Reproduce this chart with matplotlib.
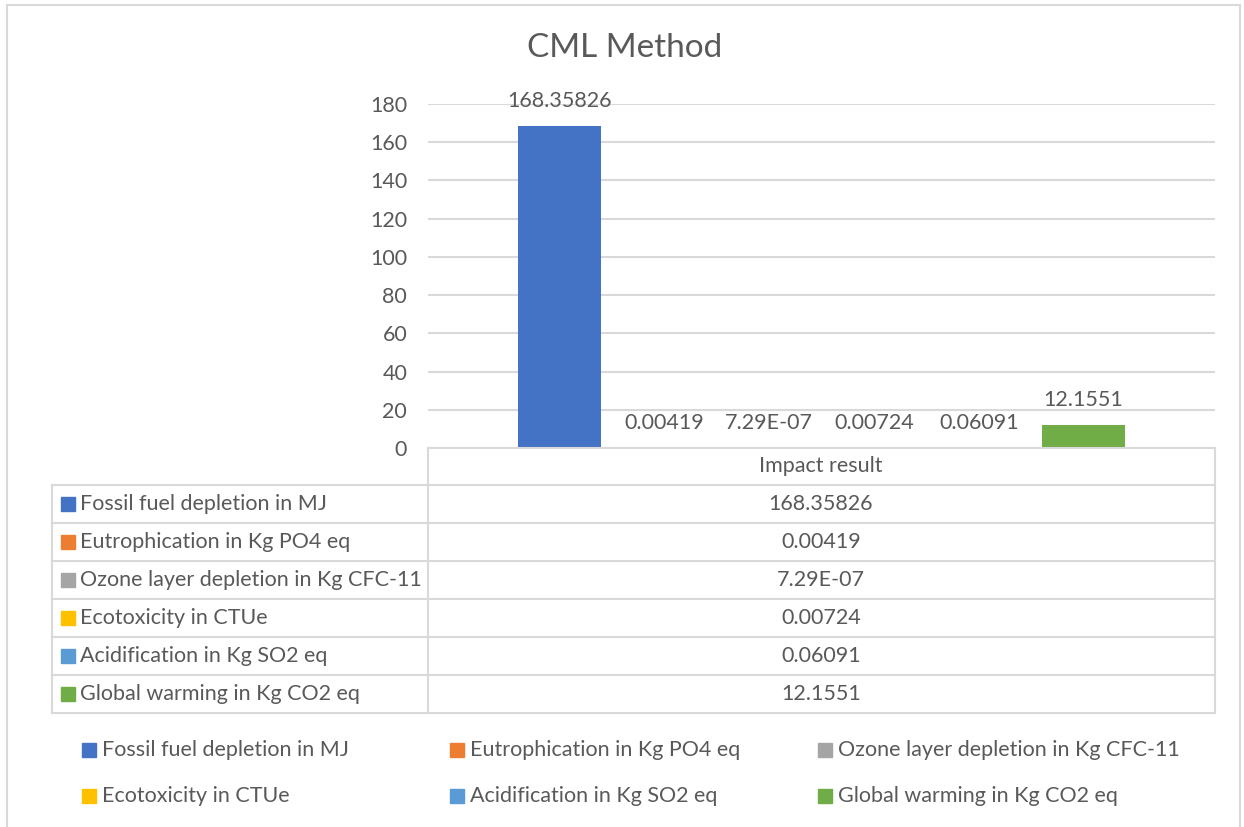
import matplotlib.pyplot as plt
import matplotlib.patches as patches
from matplotlib.lines import Line2D
import numpy as np

# DATA
categories = ["Fossil fuel depletion in MJ", "Eutrophication in Kg PO4 eq",
              "Ozone layer depletion in Kg CFC-11", "Ecotoxicity in CTUe",
              "Acidification in Kg SO2 eq", "Global warming in Kg CO2 eq"]
values = [168.35826, 0.00419, 7.29e-07, 0.00724, 0.06091, 12.1551]
colors = ["#4472C4", "#ED7D31", "#A5A5A5", "#FFC000", "#5B9BD5", "#70AD47"]
group_label = "Impact result"
title = "CML Method"
y_ticks = [0, 20, 40, 60, 80, 100, 120, 140, 160, 180]

W, H = 1244, 827
TEXT = "#595959"
GRID = "#D9D9D9"
FONT = "Lato"
FS = 15.5
MK = 14  # marker square size in px

plt.rcParams['font.family'] = [FONT, 'DejaVu Sans']


def px(x, y):
    # pixel coords (top-left origin) -> figure fraction
    return x / W, 1 - y / H


def label_of(v):
    return str(v).upper()


def square(x, yc, color):
    fig.patches.append(patches.Rectangle(px(x, yc + MK / 2), MK / W, MK / H,
                                         transform=fig.transFigure, color=color))


fig = plt.figure(figsize=(W / 100, H / 100), dpi=100)

# outer chart border (bottom edge falls outside the picture)
fig.patches.append(patches.Rectangle(px(7, 840), 1233 / W, 835 / H, transform=fig.transFigure,
                                     fill=False, edgecolor=GRID, lw=1.5, clip_on=False))

# PLOT AREA
left, top = px(428, 104)
right, bottom = px(1215, 448)
ax = fig.add_axes([left, bottom, right - left, top - bottom])

x = np.arange(len(values))
bars = ax.bar(x, values, width=0.79, color=colors, zorder=3)
ax.set_xlim(-1.254, 6.254)
ax.set_ylim(0, 180)
ax.set_yticks(y_ticks)
ax.set_xticks([])
ax.grid(axis='y', color=GRID, lw=1.5, zorder=0)
for s in ax.spines.values():
    s.set_visible(False)
ax.tick_params(axis='y', length=0, pad=15, labelsize=FS, labelcolor=TEXT)

for b, v in zip(bars, values):
    ax.annotate(label_of(v), (b.get_x() + b.get_width() / 2, v), xytext=(0, 18),
                textcoords='offset points', ha='center', va='center', fontsize=FS, color=TEXT)

fig.text(*px(625, 48), title, ha='center', va='center', fontsize=24, color=TEXT)

# DATA TABLE
def hline(x0, x1, y):
    fig.add_artist(Line2D([x0 / W, x1 / W], [1 - y / H, 1 - y / H], color=GRID, lw=1.5))


def vline(x, y0, y1):
    fig.add_artist(Line2D([x / W, x / W], [1 - y0 / H, 1 - y1 / H], color=GRID, lw=1.5))


row_h = 38
row0 = 485
hline(428, 1215, 448)
vline(428, 448, row0 + row_h * len(values))
vline(1215, 448, row0 + row_h * len(values))
vline(52, row0, row0 + row_h * len(values))
fig.text(*px(821, 466), group_label, ha='center', va='center', fontsize=FS, color=TEXT)
for i in range(len(values) + 1):
    hline(52, 1215, row0 + row_h * i)

for i, (cat, v, c) in enumerate(zip(categories, values, colors)):
    yc = row0 + row_h * i + row_h / 2
    square(61, yc, c)
    fig.text(*px(80, yc), cat, ha='left', va='center', fontsize=FS, color=TEXT)
    fig.text(*px(821, yc), label_of(v), ha='center', va='center', fontsize=FS, color=TEXT)

# LEGEND
col_x = [82, 450, 818]
row_y = [750, 796]
for i, (cat, c) in enumerate(zip(categories, colors)):
    lx = col_x[i % 3]
    ly = row_y[i // 3]
    square(lx, ly, c)
    fig.text(*px(lx + 20, ly), cat, ha='left', va='center', fontsize=FS, color=TEXT)

fig.savefig("out.png", dpi=100)
